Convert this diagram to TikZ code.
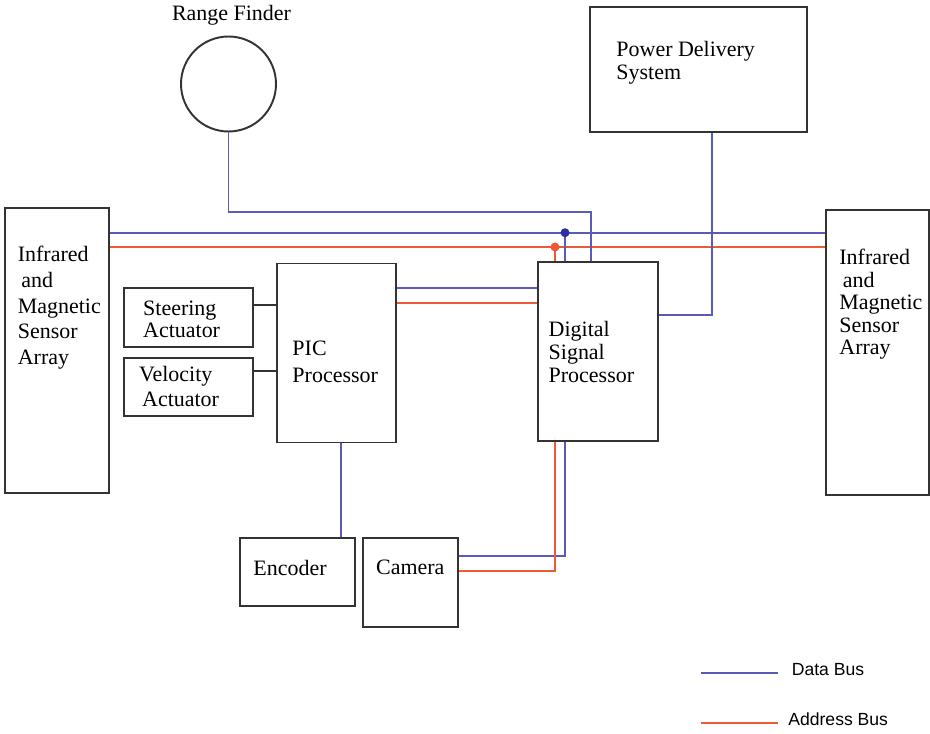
\documentclass[tikz,border=0pt]{standalone}
\usepackage{fontspec}
\setmainfont{Liberation Serif}
\newfontfamily\legendfont{Liberation Sans}
\usetikzlibrary{positioning}
\definecolor{BusBlue}{HTML}{5A5AB8}
\definecolor{BusDot}{HTML}{2E2E9E}
\definecolor{BusRed}{HTML}{EE5A36}
\definecolor{BoxGray}{HTML}{333333}
\tikzset{
    % Base box style
    basebox/.style={
        draw=BoxGray,
        fill=white,
        line width=1.1pt,
        inner sep=0pt
    },
    % Sensor array box
    sensorbox/.style={
        basebox,
        minimum height=5.71cm
    },
    % Processor box
    procbox/.style={
        basebox,
        minimum width=2.4cm,
        minimum height=3.58cm
    },
    % Actuator box
    actbox/.style={
        basebox,
        minimum width=2.58cm,
        minimum height=1.17cm
    },
    % Box text
    boxtext/.style={
        inner sep=0pt,
        align=left,
        font=\fontsize{12.5}{14}\selectfont
    },
    % Legend text
    legendtext/.style={
        inner sep=0pt,
        font=\legendfont\fontsize{10}{12}\selectfont
    },
    % Bus lines (straight lines only)
    databus/.style={
        draw=BusBlue,
        line width=1.1pt
    },
    addrbus/.style={
        draw=BusRed,
        line width=1.1pt
    },
    ctrlline/.style={
        draw=BoxGray,
        line width=1.1pt
    }
}
\begin{document}
\begin{tikzpicture}
        \useasboundingbox (0,0) rectangle (18.6,-14.66);

        % Boxes
        \node[sensorbox, minimum width=2.08cm] (lsa) at (1.14,-7.006) {};
        \node[sensorbox, minimum width=2.06cm] (rsa) at (17.55,-7.05) {};
        \node[basebox, circle, minimum size=1.9cm] (rf) at (4.57,-1.68) {};
        \node[basebox, minimum width=4.33cm, minimum height=2.49cm] (pds) at (13.967,-1.39) {};
        \node[actbox] (sa) at (3.776,-6.35) {};
        \node[actbox] (va) at (3.776,-7.737) {};
        \node[procbox, minimum width=2.39cm] (pic) at (6.727,-7.06) {};
        \node[procbox] (dsp) at (11.966,-7.024) {};
        \node[basebox, minimum width=2.3cm, minimum height=1.37cm] (enc) at (5.95,-11.437) {};
        \node[basebox, minimum width=1.89cm, minimum height=1.78cm] (cam) at (8.21,-11.644) {};

        % Labels
        \node[boxtext, font=\fontsize{12.5}{14.6}\selectfont, below right=0.79cm and 0.27cm of lsa.north west] (lsatext) {Infrared\\\hspace{2pt}and\\Magnetic\\Sensor\\Array};
        \node[boxtext, font=\fontsize{12.5}{12.8}\selectfont, below right=0.80cm and 0.28cm of rsa.north west] (rsatext) {Infrared\\\hspace{2pt}and\\Magnetic\\Sensor\\Array};
        \node[boxtext, above=0.2cm of rf, xshift=0.06cm] (rftext) {Range Finder};
        \node[boxtext, font=\fontsize{12.5}{13}\selectfont, below right=0.69cm and 0.54cm of pds.north west] (pdstext) {Power Delivery\\System};
        \node[boxtext, font=\fontsize{12.5}{12.3}\selectfont, below right=0.27cm and 0.39cm of sa.north west] (satext) {Steering\\Actuator};
        \node[boxtext, font=\fontsize{12.5}{14.2}\selectfont, below right=0.18cm and 0.31cm of va.north west] (vatext) {Velocity\\\hspace{1.7pt}Actuator};
        \node[boxtext, font=\fontsize{12.5}{15.1}\selectfont, below right=1.57cm and 0.33cm of pic.north west] (pictext) {PIC\\Processor};
        \node[boxtext, font=\fontsize{12.5}{13.2}\selectfont, below right=1.20cm and 0.22cm of dsp.north west] (dsptext) {Digital\\Signal\\Processor};
        \node[boxtext, below right=0.47cm and 0.28cm of enc.north west] (enctext) {Encoder};
        \node[boxtext, below right=0.45cm and 0.27cm of cam.north west] (camtext) {Camera};

        % Bus coordinates
        \coordinate (dbus) at (0,-4.654);
        \coordinate (abus) at (0,-4.94);
        \coordinate (dj) at (11.30,-4.654);
        \coordinate (aj) at (11.10,-4.94);
        \coordinate (rfc) at (11.814,-4.246);
        \coordinate (pd) at (0,-5.766);
        \coordinate (pa) at (0,-6.066);
        \coordinate (sline) at (0,-6.10);
        \coordinate (vline) at (0,-7.414);
        \coordinate (ex) at (6.82,0);
        \coordinate (cd) at (11.30,-11.12);
        \coordinate (ca) at (11.10,-11.42);
        \coordinate (pw) at (14.234,-6.30);

        % Main buses
        \draw[databus] (lsa.east |- dbus) -- (rsa.west |- dbus);
        \draw[addrbus] (lsa.east |- abus) -- (rsa.west |- abus);

        % Range finder and power delivery
        \draw[databus] (rf.south) |- (rfc) -- (rfc |- dsp.north);
        \draw[databus] (pds.south -| pw) -- (pw) -- (dsp.east |- pw);

        % Bus taps into the DSP
        \draw[databus] (dj) -- (dj |- dsp.north);
        \draw[addrbus] (aj) -- (aj |- dsp.north);
        \fill[BusDot] (dj) circle (0.09);
        \fill[BusRed] (aj) circle (0.09);

        % PIC to DSP
        \draw[databus] (pic.east |- pd) -- (dsp.west |- pd);
        \draw[addrbus] (pic.east |- pa) -- (dsp.west |- pa);

        % Actuators to PIC
        \draw[ctrlline] (sa.east |- sline) -- (pic.west |- sline);
        \draw[ctrlline] (va.east |- vline) -- (pic.west |- vline);

        % Encoder and camera
        \draw[databus] (pic.south -| ex) -- (enc.north -| ex);
        \draw[databus] (dsp.south -| cd) -- (cd) -- (cam.east |- cd);
        \draw[addrbus] (dsp.south -| ca) -- (ca) -- (cam.east |- ca);

        % Legend
        \coordinate (dl1) at (14.01,-13.46);
        \coordinate (dl2) at (15.56,-13.46);
        \coordinate (al1) at (14.01,-14.46);
        \coordinate (al2) at (15.56,-14.46);
        \draw[databus] (dl1) -- (dl2);
        \draw[addrbus] (al1) -- (al2);
        \node[legendtext, anchor=base west] (dlab) at (15.83,-13.51) {Data Bus};
        \node[legendtext, anchor=base west] (alab) at (15.76,-14.50) {Address Bus};
    \end{tikzpicture}
\end{document}
